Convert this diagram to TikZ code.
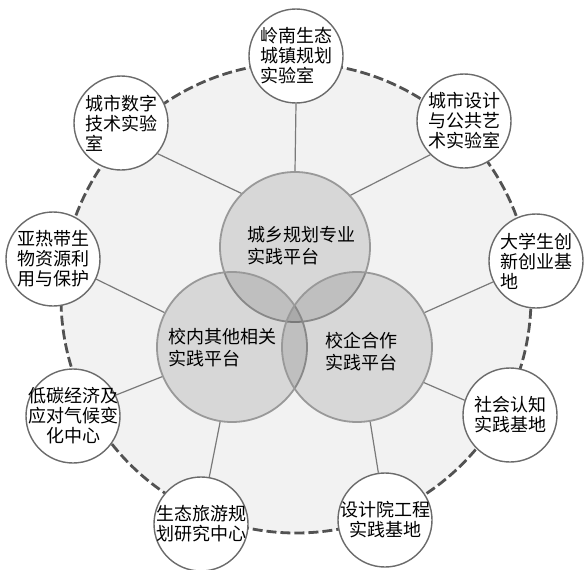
\documentclass[tikz,border=0pt]{standalone}
\usepackage{fontspec}
\setmainfont{Noto Sans CJK SC}

\begin{document}
\begin{tikzpicture}[x=1pt,y=-1pt]

\tikzstyle{lab}=[shape=circle, draw=black!58, line width=1.4pt,
    fill=white, minimum size=94pt, inner sep=0pt]
\tikzstyle{labText}=[align=left, inner sep=0pt,
    font=\fontsize{18}{20}\selectfont]
\tikzstyle{platform}=[shape=circle, draw=black!40, line width=1.8pt,
    fill=black, fill opacity=0.11, minimum size=150pt, inner sep=0pt]
\tikzstyle{platformText}=[align=left, inner sep=0pt,
    font=\fontsize{18}{22}\selectfont]
\tikzstyle{spoke}=[draw=black!52, line width=1.2pt]

  \useasboundingbox (0,0) rectangle (584,570);

  % outer ring
  \fill[black!5] (296,298) circle [radius=235pt];
  \draw[black!68, line width=2.8pt, dash pattern=on 10pt off 4pt]
    (296,298) circle [radius=235pt];

  % platforms
  \node[platform] (planning) at (295,247) {};
  \node[platform] (campus) at (232,347) {};
  \node[platform] (enterprise) at (357,347) {};

  \node[platformText] (planningText) at (301,246) {城乡规划专业\\实践平台};
  \node[platformText] (campusText) at (222,348) {校内其他相关\\实践平台};
  \node[platformText] (enterpriseText) at (361,352) {校企合作\\实践平台};

  % labs and bases
  \node[lab] (lingnan) at (296,56) {};
  \node[labText] (lingnanText) at (lingnan) {岭南生态\\城镇规划\\实验室};

  \node[lab] (urbanDesign) at (464,121) {};
  \node[labText] (urbanDesignText) at (urbanDesign) {城市设计\\与公共艺\\术实验室};

  \node[lab] (innovation) at (536,261) {};
  \node[labText] (innovationText) at (innovation) {大学生创\\新创业基\\地};

  \node[lab] (socialPractice) at (510,415) {};
  \node[labText] (socialPracticeText) at (socialPractice) {社会认知\\实践基地};

  \node[lab] (designInstitute) at (385,520) {};
  \node[labText, align=center] (designInstituteText) at (designInstitute) {设计院工程\\实践基地};

  \node[lab] (ecoTourism) at (201,524) {};
  \node[labText] (ecoTourismText) at (ecoTourism) {生态旅游规\\划研究中心};

  \node[lab] (lowCarbon) at (73,416) {};
  \node[labText, align=center] (lowCarbonText) at (lowCarbon) {低碳经济及\\应对气候变\\化中心};

  \node[lab] (subtropical) at (53,259) {};
  \node[labText] (subtropicalText) at (subtropical) {亚热带生\\物资源利\\用与保护};

  \node[lab] (digitalCity) at (121,123) {};
  \node[labText] (digitalCityText) at (digitalCity) {城市数字\\技术实验\\室};

  % spokes
  \draw[spoke] (planning.90) -- (lingnan.270);
  \draw[spoke] (planning.43) -- (urbanDesign.225);
  \draw[spoke] (planning.135) -- (digitalCity.-40);
  \draw[spoke] (campus.153) -- (subtropical.-25);
  \draw[spoke] (campus.-157) -- (lowCarbon.26);
  \draw[spoke] (campus.-99) -- (ecoTourism.80);
  \draw[spoke] (enterprise.-80) -- (designInstitute.98);
  \draw[spoke] (enterprise.-28) -- (socialPractice.162);
  \draw[spoke] (enterprise.27) -- (innovation.206);

\end{tikzpicture}
\end{document}
